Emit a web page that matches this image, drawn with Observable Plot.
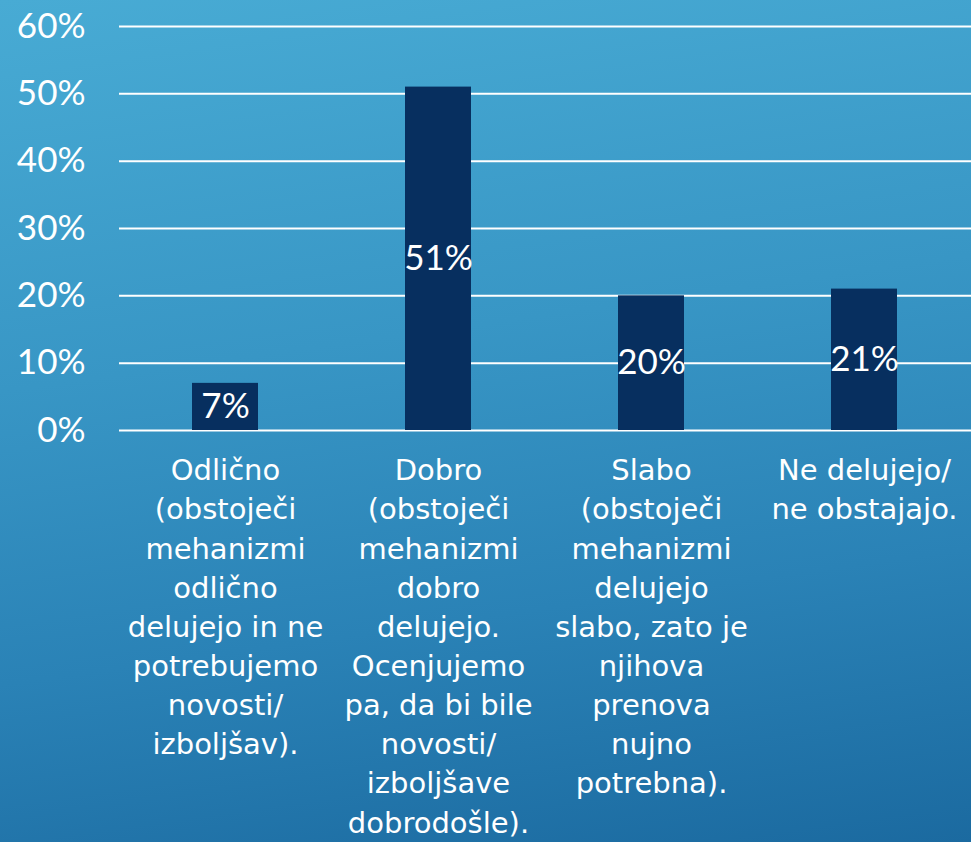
<!DOCTYPE html>
<html>
<head>
<meta charset="utf-8">
<script src="https://cdn.jsdelivr.net/npm/d3@7"></script>
<script src="https://cdn.jsdelivr.net/npm/@observablehq/plot@0.6"></script>
<style>
  html, body { margin: 0; padding: 0; }
  body { width: 971px; height: 842px; overflow: hidden;
    background: linear-gradient(172deg, #48abd4 0%, #3896c5 40%, #2a82b6 70%, #1b6aa0 100%); }
  #chart svg { display: block; }
</style>
</head>
<body>
<div id="chart"></div>
<script>
const categories = ["Odlično", "Dobro", "Slabo", "Ne delujejo"];
const values = [0.07, 0.51, 0.20, 0.21];
const categoryLabels = [
  "Odlično\n(obstoječi\nmehanizmi\nodlično\ndelujejo in ne\npotrebujemo\nnovosti/\nizboljšav).",
  "Dobro\n(obstoječi\nmehanizmi\ndobro\ndelujejo.\nOcenjujemo\npa, da bi bile\nnovosti/\nizboljšave\ndobrodošle).",
  "Slabo\n(obstoječi\nmehanizmi\ndelujejo\nslabo, zato je\nnjihova\nprenova\nnujno\npotrebna).",
  "Ne delujejo/\nne obstajajo."
];
const yTicks = [0, 0.1, 0.2, 0.3, 0.4, 0.5, 0.6];
const yTickLabels = ["0%", "10%", "20%", "30%", "40%", "50%", "60%"];

const data = categories.map((c, i) => ({category: c, value: values[i], label: Math.round(values[i] * 100) + "%"}));
const labelOf = new Map(categories.map((c, i) => [c, categoryLabels[i]]));
const yLabelOf = new Map(yTicks.map((t, i) => [t, yTickLabels[i]]));

const font = "Lato, 'Noto Sans', sans-serif";
const labelFont = "'DejaVu Sans', 'Noto Sans', sans-serif";

const chart = Plot.plot({
  width: 971,
  height: 842,
  marginLeft: 119,
  marginRight: 0,
  marginTop: 26,
  marginBottom: 412,
  style: {background: "transparent", color: "white", fontFamily: font},
  x: {domain: categories, paddingInner: 0.69, paddingOuter: 0.345},
  y: {domain: [0, 0.6]},
  marks: [
    Plot.ruleY(yTicks, {stroke: "white", strokeWidth: 2}),
    Plot.barY(data, {x: "category", y: "value", fill: "#072f5f"}),
    Plot.text(data, {x: "category", y: d => d.value / 2, text: "label", fill: "white", fontSize: 35, fontFamily: font}),
    Plot.axisY({ticks: yTicks, tickFormat: t => yLabelOf.get(t), tickSize: 0, tickPadding: 34, fontSize: 35, fill: "white", fontFamily: font, label: null}),
    Plot.axisX({tickFormat: c => labelOf.get(c), tickSize: 0, tickPadding: 22, fontSize: 29, lineHeight: 1.35, lineAnchor: "top", fill: "white", fontFamily: labelFont, label: null})
  ]
});
document.getElementById("chart").append(chart);
</script>
</body>
</html>
